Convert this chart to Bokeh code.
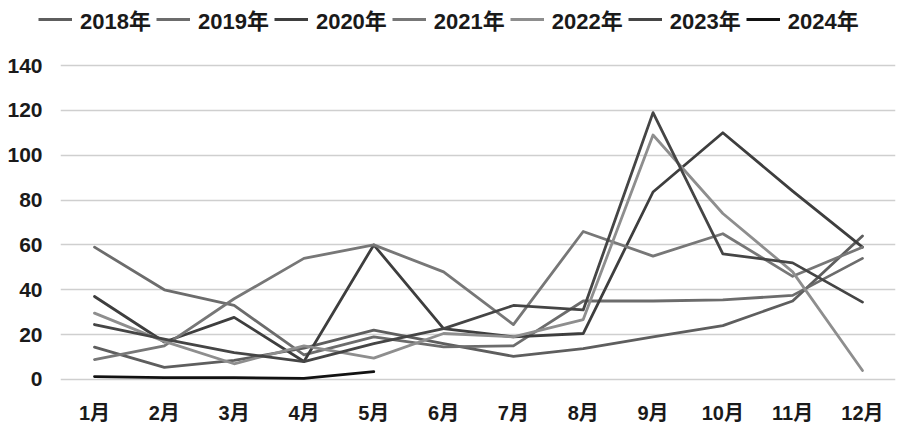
from bokeh.plotting import figure
from bokeh.models import Range1d, FixedTicker, Legend, LegendItem
from bokeh.layouts import column
from bokeh.embed import file_html
from bokeh.resources import INLINE

months = ["1月", "2月", "3月", "4月", "5月", "6月", "7月", "8月", "9月", "10月", "11月", "12月"]
years = ["2018年", "2019年", "2020年", "2021年", "2022年", "2023年", "2024年"]

s2018 = [14.4, 5.4, 8.5, 14, 22, 16, 10.3, 13.8, 19, 24, 35, 64]
s2019 = [59, 40, 33, 11, 19, 14.5, 15, 35, 35, 35.5, 37.5, 54]
s2020 = [37, 16.7, 27.7, 8, 60, 22.7, 19, 20.5, 83.6, 110, 84, 59]
s2021 = [8.9, 15, 36, 54, 60, 48, 24.5, 66, 55, 65, 46, 59]
s2022 = [29.6, 17, 7, 15, 9.5, 20.5, 19, 26.7, 109, 74, 48, 4]
s2023 = [24.5, 18, 12, 8, 16, 22.7, 33, 31, 119, 56, 52, 34.5]
s2024 = [1.3, 0.8, 0.8, 0.5, 3.5]

y_ticks = [0, 20, 40, 60, 80, 100, 120, 140]

series = [s2018, s2019, s2020, s2021, s2022, s2023, s2024]
colors = ["#5e5e5e", "#6c6c6c", "#3e3e3e", "#777777", "#8e8e8e", "#454545", "#111111"]

FONT = "Liberation Sans, Noto Sans CJK SC"
LW = 2.8

# main chart
p = figure(width=900, height=387, output_backend="svg", toolbar_location=None,
           x_range=Range1d(-0.487, 11.473), y_range=Range1d(-0.9, 140.9),
           min_border_left=60, min_border_right=5, min_border_top=19, min_border_bottom=50)
p.outline_line_color = None
p.background_fill_color = "white"
p.border_fill_color = "white"
try:
    p.frame_align = False
except Exception:
    pass

for s, c in zip(series, colors):
    xs = list(range(len(s)))
    p.line(xs, s, line_color=c, line_width=LW, line_join="round", line_cap="round")

p.xgrid.grid_line_color = None
p.ygrid.grid_line_color = "#cfcfcf"
p.ygrid.grid_line_width = 1.6
p.ygrid.ticker = FixedTicker(ticks=y_ticks)

p.yaxis.ticker = FixedTicker(ticks=y_ticks)
p.yaxis.axis_line_color = None
p.yaxis.major_tick_line_color = None
p.yaxis.minor_tick_line_color = None
p.yaxis.major_tick_out = 0
p.yaxis.major_label_standoff = 18
p.yaxis.major_label_text_font = FONT
p.yaxis.major_label_text_font_size = "21px"
p.yaxis.major_label_text_font_style = "bold"
p.yaxis.major_label_text_color = "#1a1a1a"

p.xaxis.ticker = FixedTicker(ticks=list(range(len(months))))
p.xaxis.major_label_overrides = {i: m for i, m in enumerate(months)}
p.xaxis.axis_line_color = None
p.xaxis.major_tick_line_color = None
p.xaxis.minor_tick_line_color = None
p.xaxis.major_tick_out = 0
p.xaxis.major_label_standoff = 20
p.xaxis.major_label_text_font = FONT
p.xaxis.major_label_text_font_size = "20px"
p.xaxis.major_label_text_font_style = "bold"
p.xaxis.major_label_text_color = "#1a1a1a"

# legend strip (its sample lines sit outside its visible range)
lg = figure(width=900, height=44, output_backend="svg", toolbar_location=None,
            x_range=Range1d(0, 1), y_range=Range1d(0, 1),
            min_border_left=0, min_border_right=0, min_border_top=0, min_border_bottom=0)
try:
    lg.frame_align = False
except Exception:
    pass
lg.axis.visible = False
lg.grid.grid_line_color = None
lg.outline_line_color = None
lg.background_fill_color = "white"
lg.border_fill_color = "white"

items = []
for y, c in zip(years, colors):
    r = lg.line([0, 1], [-5, -5], line_color=c, line_width=LW)
    items.append(LegendItem(label=y, renderers=[r]))
legend = Legend(items=items, orientation="horizontal", location=(38, 9),
                padding=0, margin=0, spacing=5, glyph_width=34, glyph_height=20,
                label_standoff=8, border_line_alpha=0, background_fill_alpha=0,
                label_text_font=FONT, label_text_font_size="22px",
                label_text_font_style="bold", label_text_color="#1a1a1a")
lg.add_layout(legend, "center")

layout = column(lg, p, spacing=0)
open("out.html", "w").write(file_html(layout, INLINE))
